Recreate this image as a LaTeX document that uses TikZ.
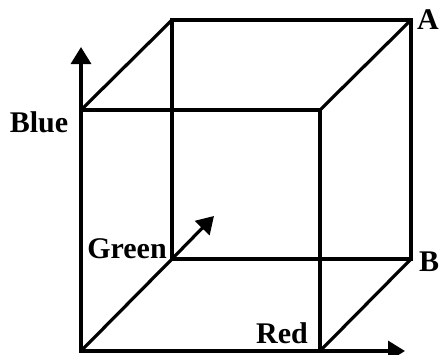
\documentclass[tikz,border=0pt]{standalone}
\usepackage{fontspec}
\setmainfont{Liberation Serif}
\usetikzlibrary{arrows.meta}

\begin{document}
\begin{tikzpicture}[x=0.5pt, y=-0.5pt,
    edge/.style={line width=1.6pt, black},
    axis/.style={line width=1.6pt, black, -{Triangle[length=8.5pt, width=10pt]}},
    lbl/.style={font=\fontsize{15}{18}\selectfont\bfseries, inner sep=0pt}]

    \useasboundingbox (0,0) rectangle (439,354);
    \clip (0,0) rectangle (439,354);

    % === Corners of the cube ===
    \coordinate (F1) at (81,351);   % front bottom left
    \coordinate (F2) at (320,351);  % front bottom right
    \coordinate (F3) at (320,110);  % front top right
    \coordinate (F4) at (81,110);   % front top left
    \coordinate (K1) at (172,259);  % back bottom left
    \coordinate (K2) at (411,259);  % back bottom right (B)
    \coordinate (K3) at (411,20);   % back top right (A)
    \coordinate (K4) at (172,20);   % back top left

    % Axis tips
    \coordinate (TB) at (81,47);
    \coordinate (TG) at (214,216);
    \coordinate (TR) at (405,351);

    % === Front and back faces ===
    \draw[edge] (F1) -- (F2) -- (F3) -- (F4) -- cycle;
    \draw[edge] (K1) -- (K2) -- (K3) -- (K4) -- cycle;

    % === Connecting edges ===
    \draw[edge] (F1) -- (K1);
    \draw[edge] (F2) -- (K2);
    \draw[edge] (F3) -- (K3);
    \draw[edge] (F4) -- (K4);

    % === Axes ===
    \draw[axis] (F4) -- (TB);
    \draw[axis] (K1) -- (TG);
    \draw[axis] (F2) -- (TR);

    % Labels
    \node[lbl] (blue)  at (39,122)  {Blue};
    \node[lbl] (green) at (127,249) {Green};
    \node[lbl] (red)   at (282,333) {Red};
    \node[lbl] (a)     at (428,20)  {A};
    \node[lbl] (b)     at (429,262) {B};

\end{tikzpicture}
\end{document}
